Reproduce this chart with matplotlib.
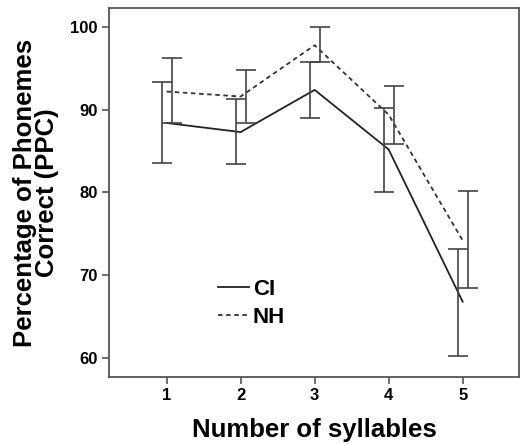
import matplotlib
matplotlib.use('Agg')
import matplotlib.pyplot as plt

syllables = [1, 2, 3, 4, 5]
ci_mean = [88.4, 87.3, 92.4, 85.2, 66.8]
ci_low = [83.6, 83.5, 89.0, 80.0, 60.2]
ci_high = [93.4, 91.3, 95.8, 90.2, 73.2]
nh_mean = [92.2, 91.6, 97.8, 89.4, 74.2]
nh_low = [88.4, 88.4, 95.8, 85.9, 68.4]
nh_high = [96.2, 94.8, 100.0, 92.9, 80.2]


def main():
	plt.rcParams['font.family'] = ['Liberation Sans', 'DejaVu Sans']
	plt.rcParams['font.weight'] = 'bold'

	fig = plt.figure(figsize=(5.21, 4.44), dpi=100)
	ax = fig.add_axes([0.209, 0.151, 0.787, 0.831])

	off = 0.068
	ax.plot(syllables, ci_mean, color='#222222', lw=1.3, ls='-', label='CI')
	ax.plot(syllables, nh_mean, color='#333333', lw=1.3, ls=(0, (2.5, 2)), label='NH')

	ci_x = [s - off for s in syllables]
	nh_x = [s + off for s in syllables]
	ci_err = [[m - l for m, l in zip(ci_mean, ci_low)], [h - m for m, h in zip(ci_mean, ci_high)]]
	nh_err = [[m - l for m, l in zip(nh_mean, nh_low)], [h - m for m, h in zip(nh_mean, nh_high)]]
	ax.errorbar(ci_x, ci_mean, yerr=ci_err, fmt='none', ecolor='#444444', elinewidth=1.2, capsize=7, capthick=1.2)
	ax.errorbar(nh_x, nh_mean, yerr=nh_err, fmt='none', ecolor='#444444', elinewidth=1.2, capsize=7, capthick=1.2)

	ax.set_xlim(0.22, 5.76)
	ax.set_ylim(57.7, 102.3)
	ax.set_xticks(syllables)
	ax.set_yticks([60, 70, 80, 90, 100])
	ax.tick_params(axis='both', labelsize=12, length=5, width=1.2, color='#555555', pad=3)
	for lab in ax.get_xticklabels() + ax.get_yticklabels():
		lab.set_fontweight('bold')

	for s in ax.spines.values():
		s.set_color('#555555')
		s.set_linewidth(1.3)

	ax.set_xlabel('Number of syllables', fontsize=18.5, fontweight='bold', labelpad=11)
	ax.set_ylabel('Percentage of Phonemes\nCorrect (PPC)', fontsize=18.5, fontweight='bold', labelpad=8, linespacing=0.9)

	leg = ax.legend(loc='upper left', bbox_to_anchor=(0.218, 0.32), frameon=False,
		prop={'size': 16, 'weight': 'bold'}, handlelength=1.4, handletextpad=0.15, labelspacing=0.3)

	fig.savefig('out.png', dpi=100)


if __name__ == '__main__':
	main()
